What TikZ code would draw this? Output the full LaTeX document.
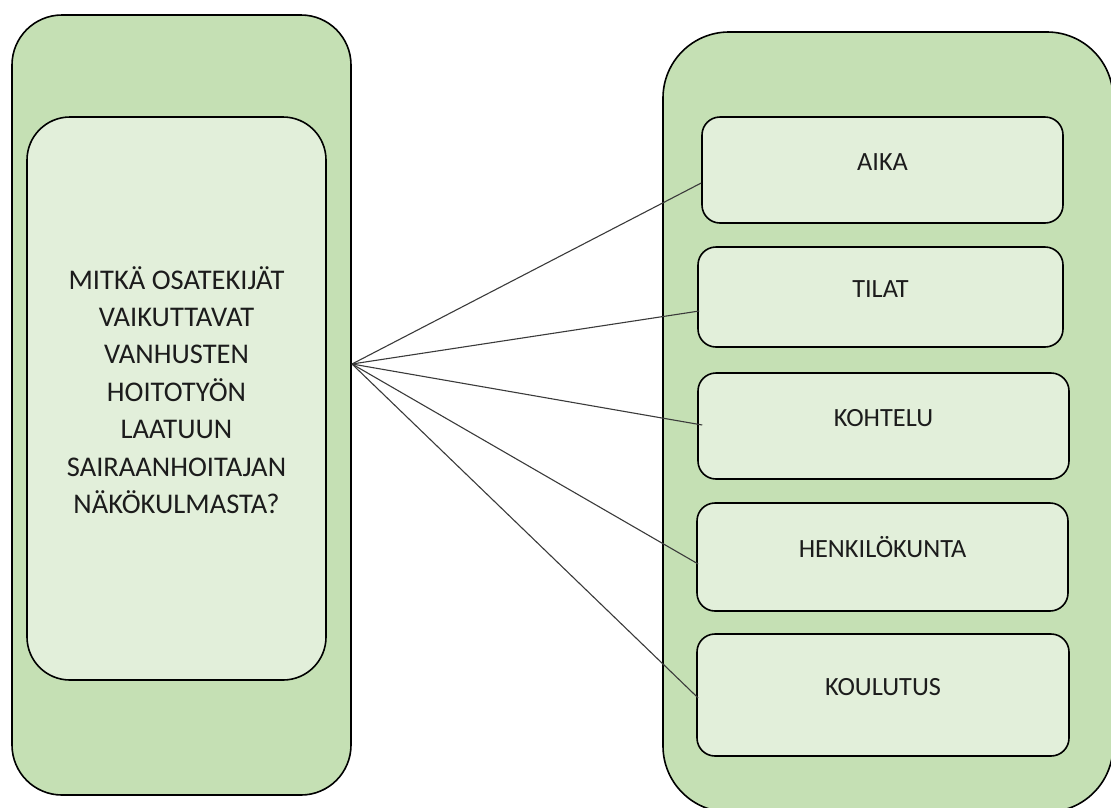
\documentclass[tikz,border=0pt]{standalone}
\usepackage{fontspec}
\setmainfont{Carlito}
\definecolor{outergreen}{HTML}{C5E0B4}
\definecolor{innergreen}{HTML}{E2EFDA}
\definecolor{linkgray}{HTML}{3A3A3A}
\definecolor{inkgray}{HTML}{1C1C1C}
\begin{document}
\begin{tikzpicture}[x=1pt,y=-1pt,
  frame/.style={draw=black, line width=1.6pt, fill=outergreen, rounded corners=#1, inner sep=0pt},
  frame/.default=50pt,
  item/.style={draw=black, line width=1.6pt, fill=innergreen, rounded corners=18pt,
    inner sep=0pt, text=inkgray, font=\fontsize{26.3}{30}\selectfont, text height=12pt, text depth=12pt},
  question/.style={align=center, inner sep=0pt, text=inkgray, font=\fontsize{28.5}{37.4}\selectfont},
  link/.style={draw=linkgray, line width=1.1pt}]
\useasboundingbox (0,0) rectangle (1111,807);

% left column: the research question
\node[frame=50pt, minimum width=339pt, minimum height=780pt] (lout) at (181.5,405) {};
\node[frame=43pt, fill=innergreen, minimum width=299pt, minimum height=563pt] (lin) at (176.5,398.5) {};
\node[question] (q) at (176.5,390) {MITKÄ OSATEKIJÄT\\VAIKUTTAVAT\\VANHUSTEN\\HOITOTYÖN\\LAATUUN\\SAIRAANHOITAJAN\\NÄKÖKULMASTA?};

% right column: the factors
\node[frame=66pt, minimum width=450pt, minimum height=780pt] (rout) at (888,422) {};
\node[item, minimum width=361pt, minimum height=106pt] (aika) at (882.5,170) {AIKA};
\node[item, minimum width=365pt, minimum height=100pt] (tilat) at (880.5,297) {TILAT};
\node[item, minimum width=371pt, minimum height=106pt] (kohtelu) at (883.5,426) {KOHTELU};
\node[item, minimum width=371pt, minimum height=108pt] (henk) at (882.5,557) {HENKILÖKUNTA};
\node[item, minimum width=372pt, minimum height=122pt] (koul) at (883,695) {KOULUTUS};

% connectors fanning out from the question
\coordinate (hub) at (352,364);
\draw[link] (hub) -- ([yshift=-13pt]aika.west);
\draw[link] (hub) -- ([xshift=2pt,yshift=-14pt]tilat.west);
\draw[link] (hub) -- ([xshift=5pt,yshift=1pt]kohtelu.west);
\draw[link] (hub) -- ([xshift=2pt,yshift=-7pt]henk.west);
\draw[link] (hub) -- ([xshift=2pt,yshift=-3pt]koul.west);
\end{tikzpicture}
\end{document}
